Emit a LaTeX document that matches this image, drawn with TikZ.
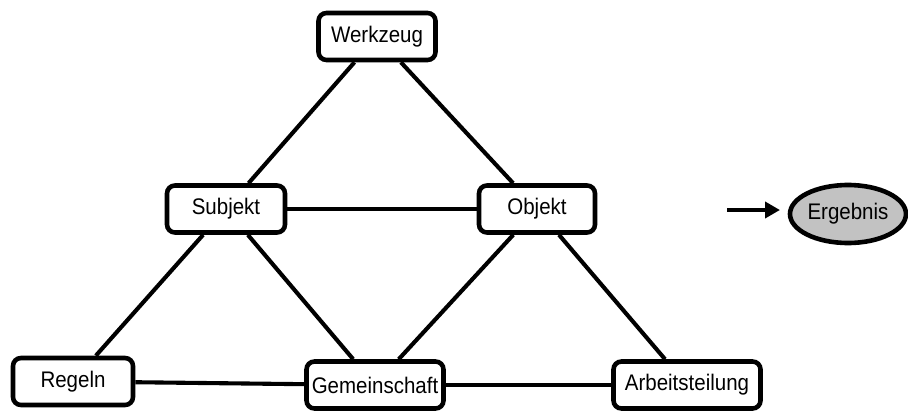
\documentclass[tikz,border=0pt]{standalone}
\usepackage{fontspec}
\setmainfont{Liberation Sans}
\usetikzlibrary{shapes.geometric,arrows.meta}
\newcommand{\tallbl}[1]{\scalebox{1}[1.1]{#1}}
\tikzset{
  box/.style={draw=black, line width=4.6pt, rounded corners=8pt, fill=white,
    minimum height=47pt, inner sep=0pt, font=\fontsize{20.5}{24}\selectfont},
  link/.style={line width=4.1pt},
  result/.style={ellipse, draw=black, line width=4.6pt, fill=black!24,
    minimum width=116pt, minimum height=58pt, inner sep=0pt,
    font=\fontsize{20.5}{24}\selectfont}
}
\begin{document}
\begin{tikzpicture}[x=1pt,y=-1pt]
  \useasboundingbox (0,0) rectangle (908,412);

  % activity system nodes
  \node[box, minimum width=117pt] (W) at (377,36.5) {\tallbl{Werkzeug}};
  \node[box, minimum width=118pt] (S) at (226,209) {\tallbl{Subjekt}};
  \node[box, minimum width=116pt] (O) at (537,209) {\tallbl{Objekt}};
  \node[box, minimum width=120pt] (R) at (73,381.5) {\tallbl{Regeln}};
  \node[box, minimum width=137pt] (G) at (375,385) {\tallbl{Gemeinschaft}};
  \node[box, minimum width=147pt] (A) at (687,385) {\tallbl{Arbeitsteilung}};

  % outcome
  \node[result] (E) at (848,214) {\tallbl{Ergebnis}};
  \coordinate (a0) at (727,210);
  \coordinate (a1) at (780,210);

  % connections
  \draw[link] (W) -- (S);
  \draw[link] (W) -- (O);
  \draw[link] (S) -- (O);
  \draw[link] (S) -- (R);
  \draw[link] (S) -- (G);
  \draw[link] (O) -- (G);
  \draw[link] (O) -- (A);
  \draw[link] (R) -- (G);
  \draw[link] (G) -- (A);

  \draw[line width=4.2pt, -{Triangle[length=15pt,width=16pt]}] (a0) -- (a1);
\end{tikzpicture}
\end{document}
